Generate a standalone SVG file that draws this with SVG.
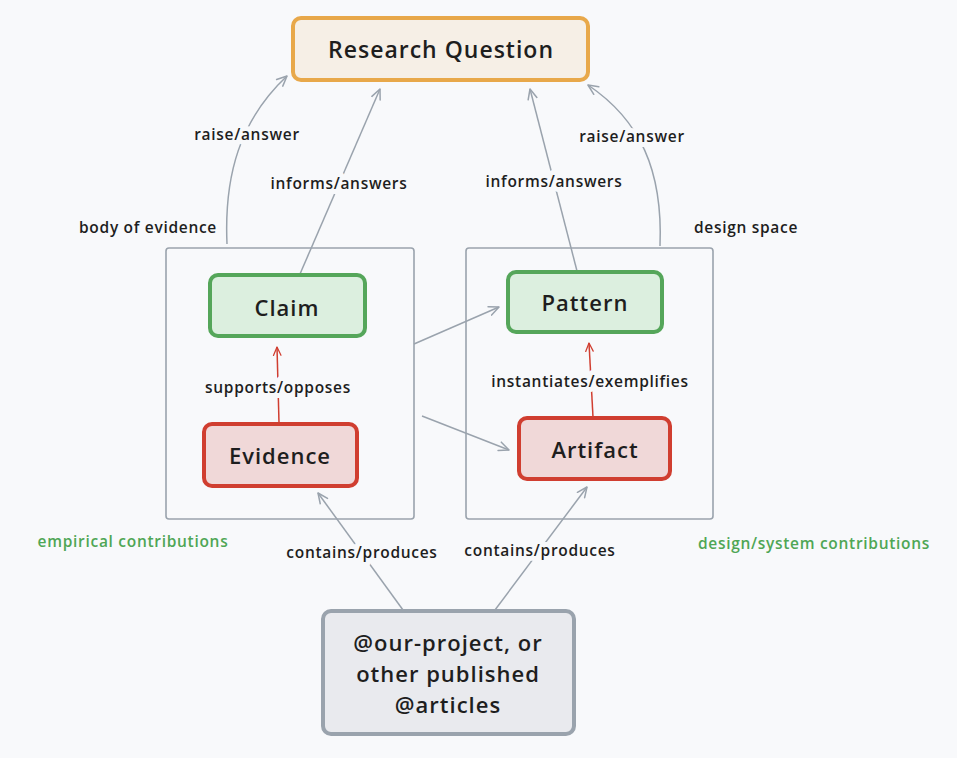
<svg xmlns="http://www.w3.org/2000/svg" width="957" height="758" viewBox="0 0 957 758">
<style>
.bg{fill:#f8f9fb}
.node text{font-family:"Open Sans","Liberation Sans",sans-serif;font-weight:600;font-size:22px;letter-spacing:1px;fill:#1e1e1e;text-anchor:middle;dominant-baseline:central}
.rq rect{fill:#f6efe6;stroke:#e8a84a;stroke-width:4}
.green rect{fill:#dcefdf;stroke:#55a65a;stroke-width:4}
.red rect{fill:#f0d8d8;stroke:#d03e30;stroke-width:4}
.src rect{fill:#e9eaee;stroke:#9aa3ad;stroke-width:4}
.frame{fill:#f8f9fb;stroke:#9aa3ad;stroke-width:1.6}
.edge{fill:none;stroke:#9aa3ad;stroke-width:1.5}
.redge{fill:none;stroke:#d03e30;stroke-width:1.5}
.lbl{font-family:"Open Sans","Liberation Sans",sans-serif;font-weight:600;font-size:15.5px;letter-spacing:0.7px;fill:#1e1e1e;text-anchor:middle;dominant-baseline:central;paint-order:stroke;stroke:#f8f9fb;stroke-width:10px;stroke-linejoin:round}
.glbl{fill:#4fa655}
</style>
<defs>
<marker id="ag" viewBox="0 0 12 12" refX="11" refY="6" markerWidth="12" markerHeight="12" markerUnits="userSpaceOnUse" orient="auto">
<path d="M1,1.5 L11,6 L1,10.5" fill="none" stroke="#9aa3ad" stroke-width="1.5" stroke-linecap="round" stroke-linejoin="round"/>
</marker>
<marker id="ar" viewBox="0 0 12 12" refX="11" refY="6" markerWidth="10" markerHeight="10" markerUnits="userSpaceOnUse" orient="auto">
<path d="M1,1.5 L11,6 L1,10.5" fill="none" stroke="#d03e30" stroke-width="1.5" stroke-linecap="round" stroke-linejoin="round"/>
</marker>
</defs>
<rect class="bg" x="0" y="0" width="957" height="758"/>

<g id="frame-body-of-evidence">
<rect class="frame" x="166" y="248" width="248" height="271" rx="3"/>
</g>
<g id="frame-design-space">
<rect class="frame" x="466" y="248" width="247" height="271" rx="3"/>
</g>

<g id="connectors">
<path class="edge" d="M227,244 C224,175 240,120 287,76" marker-end="url(#ag)"/>
<path class="edge" d="M300,274 L380,89" marker-end="url(#ag)"/>
<path class="edge" d="M577,271 L530,89" marker-end="url(#ag)"/>
<path class="edge" d="M660,246 C663,170 640,120 588,85" marker-end="url(#ag)"/>
<path class="redge" d="M279,423 L277,347" marker-end="url(#ar)"/>
<path class="redge" d="M593,417 L589,343" marker-end="url(#ar)"/>
<path class="edge" d="M414,344 L499,307" marker-end="url(#ag)"/>
<path class="edge" d="M422,416 L509,450" marker-end="url(#ag)"/>
<path class="edge" d="M403,610 L318,493" marker-end="url(#ag)"/>
<path class="edge" d="M495,610 L587,487" marker-end="url(#ag)"/>
<text class="lbl" x="247" y="134">raise/answer</text>
<text class="lbl" x="339" y="183">informs/answers</text>
<text class="lbl" x="554" y="181">informs/answers</text>
<text class="lbl" x="632" y="136">raise/answer</text>
<text class="lbl" x="278" y="387">supports/opposes</text>
<text class="lbl" x="590" y="381">instantiates/exemplifies</text>
<text class="lbl" x="362" y="552">contains/produces</text>
<text class="lbl" x="540" y="550">contains/produces</text>
</g>

<g id="label-body-of-evidence"><text class="lbl" x="148" y="227">body of evidence</text></g>
<g id="label-design-space"><text class="lbl" x="746" y="227">design space</text></g>
<g id="label-empirical"><text class="lbl glbl" x="133" y="541">empirical contributions</text></g>
<g id="label-design-system"><text class="lbl glbl" x="814" y="543">design/system contributions</text></g>

<g id="research-question" class="node rq">
<rect x="293" y="18" width="295" height="62" rx="8"/>
<text x="441" y="49" style="font-size:23px">Research Question</text>
</g>
<g id="claim" class="node green">
<rect x="210" y="275" width="155" height="61" rx="8"/>
<text x="287" y="307">Claim</text>
</g>
<g id="evidence" class="node red">
<rect x="204" y="424" width="153" height="62" rx="8"/>
<text x="280" y="455">Evidence</text>
</g>
<g id="pattern" class="node green">
<rect x="508" y="272" width="154" height="60" rx="8"/>
<text x="585" y="302">Pattern</text>
</g>
<g id="artifact" class="node red">
<rect x="519" y="418" width="151" height="61" rx="8"/>
<text x="595" y="449">Artifact</text>
</g>
<g id="source" class="node src">
<rect x="323" y="611" width="251" height="123" rx="8"/>
<text x="448" y="642">@our-project, or</text>
<text x="448" y="673">other published</text>
<text x="448" y="704">@articles</text>
</g>
</svg>
